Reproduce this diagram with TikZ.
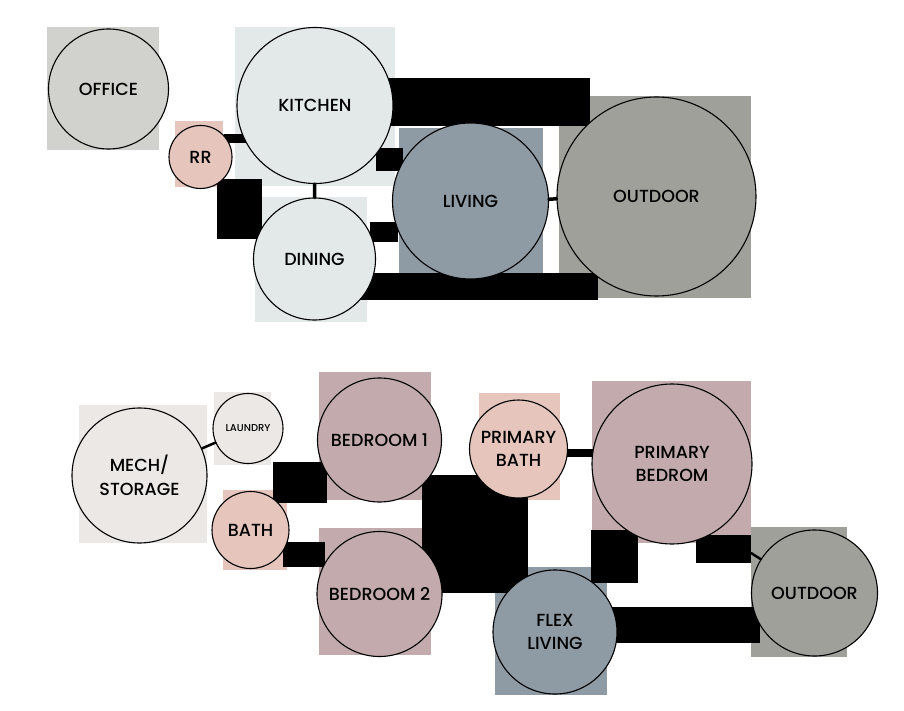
\documentclass[tikz,border=0pt]{standalone}
\usepackage{fontspec}
\setmainfont{Poppins}[UprightFont={* Medium}]
\definecolor{officecol}{HTML}{D1D1CD}
\definecolor{kitchcol}{HTML}{E3E9E9}
\definecolor{rrcol}{HTML}{E5C5BC}
\definecolor{livcol}{HTML}{8E9AA4}
\definecolor{outcol}{HTML}{A0A09B}
\definecolor{mechcol}{HTML}{ECE8E6}
\definecolor{bedcol}{HTML}{C3ABAD}
\begin{document}
\begin{tikzpicture}[
  x=1pt,
  y=-1pt,
  line cap=round,
  line join=round,
  room/.style={circle, draw=black, line width=1.1pt, inner sep=0pt,
    align=center, font=\fontsize{17.5}{23.5}\selectfont},
  link/.style={line width=3.5pt}
]
  \useasboundingbox (0,0) rectangle (904,711);

  % Зоны (верх)
  \fill[officecol] (47,27) rectangle (159,150);
  \fill[rrcol] (175,121) rectangle (223,187);
  \fill[kitchcol] (235,27) rectangle (395,186);
  \fill[kitchcol] (255,197) rectangle (367,322);
  \fill[livcol] (399,128) rectangle (543,274);
  \fill[outcol] (559,96) rectangle (751,298);

  % Зоны (низ)
  \fill[mechcol] (79,405) rectangle (207,543);
  \fill[mechcol] (214,392) rectangle (271,465);
  \fill[rrcol] (223,490) rectangle (287,570);
  \fill[bedcol] (319,372) rectangle (431,500);
  \fill[bedcol] (319,528) rectangle (431,655);
  \fill[rrcol] (479,393) rectangle (560,500);
  \fill[bedcol] (592,381) rectangle (751,543);
  \fill[outcol] (751,527) rectangle (847,657);
  \fill[livcol] (495,567) rectangle (607,695);

  % Перемычки (верх)
  \fill (224,134) rectangle (250,143);
  \fill (217,179) rectangle (262,239);
  \fill (376,148) rectangle (403,171);
  \fill (370,222) rectangle (398,242);
  \fill (388,78) rectangle (590,126);
  \fill (355,273) rectangle (598,300);

  % Перемычки (низ)
  \fill (273,462) rectangle (327,503);
  \fill (283,542) rectangle (325,567);
  \fill (422,475) rectangle (528,593);
  \fill (562,449) rectangle (600,457);
  \fill (591,530) rectangle (638,583);
  \fill (696,535) rectangle (751,563);
  \fill (610,607) rectangle (760,643);

  % Комнаты (верх)
  \node[room, fill=officecol, minimum size=120pt] (office) at (108.5,89) {OFFICE};
  \node[room, fill=rrcol, minimum size=63pt] (rr) at (200.5,157) {RR};
  \node[room, fill=kitchcol, minimum size=156pt] (kitchen) at (315,105.5) {KITCHEN};
  \node[room, fill=kitchcol, minimum size=122pt] (dining) at (314.5,259) {DINING};
  \node[room, fill=livcol, minimum size=156pt] (living) at (470.5,201) {LIVING};
  \node[room, fill=outcol, minimum size=199pt] (outdoor) at (656.5,196.5) {OUTDOOR};

  % Комнаты (низ)
  \node[room, fill=mechcol, minimum size=135pt] (mech) at (139.5,475.5) {MECH/\\STORAGE};
  \node[room, fill=mechcol, minimum size=70pt, font=\fontsize{10}{12}\selectfont] (laundry) at (248,428.5) {LAUNDRY};
  \node[room, fill=rrcol, minimum size=77pt] (bath) at (250.5,530) {BATH};
  \node[room, fill=bedcol, minimum size=124pt] (bedA) at (379.5,440) {BEDROOM 1};
  \node[room, fill=bedcol, minimum size=125pt] (bedB) at (379.5,594) {BEDROOM 2};
  \node[room, fill=rrcol, minimum size=98pt] (pbath) at (518.5,449) {PRIMARY\\BATH};
  \node[room, fill=bedcol, minimum size=160pt] (pbed) at (672,464) {PRIMARY\\BEDROM};
  \node[room, fill=outcol, minimum size=126pt] (outdoorB) at (814.5,593) {OUTDOOR};
  \node[room, fill=livcol, minimum size=124pt] (flex) at (555,632) {FLEX\\LIVING};

  % Связи
  \coordinate (pbedcorner) at (751,553);
  \draw[link] (kitchen) -- (dining);
  \draw[link] (living) -- (outdoor);
  \draw[line width=2.5pt] (mech) -- (laundry);
  \draw[line width=2.5pt] (pbedcorner) -- (outdoorB);
\end{tikzpicture}
\end{document}
